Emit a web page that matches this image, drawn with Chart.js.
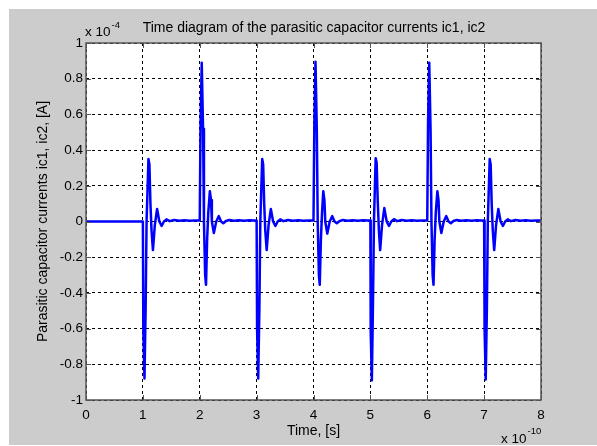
<!DOCTYPE html>
<html>
<head>
<meta charset="utf-8">
<script src="https://cdn.jsdelivr.net/npm/chart.js@4.4.0/dist/chart.umd.min.js"></script>
<style>
  html, body { margin: 0; padding: 0; background: #fff; }
  canvas { display: block; }
</style>
</head>
<body>
<canvas id="myChart" width="597" height="446"></canvas>
<script>
// Datos: tiempo en unidades de 1e-10 s, corriente en 1e-4 A
const timeValues = [
  0, 0.5, 1.0,
  // pulso en t = 1
  1.008, 1.028, 1.048, 1.065, 1.098, 1.115, 1.133, 1.152, 1.177, 1.21, 1.25, 1.29, 1.33, 1.37, 1.415, 1.47, 1.55, 1.64, 1.73, 1.82, 1.91, 2.0,
  // pulso en t = 2
  2.014, 2.035, 2.058, 2.074, 2.095, 2.11, 2.13, 2.15, 2.178, 2.198, 2.213, 2.248, 2.29, 2.335, 2.375, 2.415, 2.46, 2.52, 2.6, 2.69, 2.78, 2.87, 2.95, 3.0,
  // pulso en t = 3
  3.008, 3.028, 3.048, 3.065, 3.098, 3.115, 3.133, 3.152, 3.177, 3.21, 3.25, 3.29, 3.33, 3.37, 3.415, 3.47, 3.55, 3.64, 3.73, 3.82, 3.91, 4.0,
  // pulso en t = 4
  4.014, 4.035, 4.058, 4.074, 4.095, 4.11, 4.13, 4.15, 4.172, 4.192, 4.207, 4.242, 4.285, 4.33, 4.37, 4.41, 4.46, 4.52, 4.6, 4.69, 4.78, 4.87, 4.95, 5.0,
  // pulso en t = 5
  5.006, 5.026, 5.046, 5.063, 5.093, 5.11, 5.13, 5.15, 5.172, 5.205, 5.245, 5.287, 5.327, 5.367, 5.415, 5.47, 5.55, 5.64, 5.73, 5.82, 5.91, 6.0,
  // pulso en t = 6
  6.014, 6.035, 6.058, 6.074, 6.095, 6.11, 6.13, 6.15, 6.178, 6.198, 6.213, 6.248, 6.29, 6.335, 6.375, 6.415, 6.46, 6.52, 6.6, 6.69, 6.78, 6.87, 6.95, 7.0,
  // pulso en t = 7
  7.008, 7.028, 7.048, 7.065, 7.098, 7.115, 7.133, 7.152, 7.177, 7.21, 7.25, 7.29, 7.33, 7.37, 7.415, 7.47, 7.55, 7.64, 7.73, 7.82, 7.91, 8.0
];

const currentValues = [
  0, 0, 0,
  // pulso en t = 1
  -0.6, -0.88, -0.5, 0, 0.35, 0.32, 0.1, -0.05, -0.16, -0.02, 0.07, 0, -0.025, 0, 0.012, 0.002, 0.008, 0.004, 0.007, 0.004, 0.006, 0.005,
  // pulso en t = 2
  0.55, 0.89, 0.52, 0, -0.3, -0.355, -0.1, 0.05, 0.17, 0.12, 0, -0.065, 0, 0.03, 0, -0.01, 0.003, 0.008, 0.004, 0.007, 0.004, 0.007, 0.005, 0.005,
  // pulso en t = 3
  -0.6, -0.88, -0.5, 0, 0.35, 0.32, 0.1, -0.05, -0.16, -0.02, 0.07, 0, -0.025, 0, 0.012, 0.002, 0.008, 0.004, 0.007, 0.004, 0.006, 0.005,
  // pulso en t = 4
  0.52, 0.895, 0.52, 0, -0.3, -0.355, -0.1, 0.05, 0.17, 0.12, 0, -0.068, 0, 0.03, 0, -0.01, 0.003, 0.008, 0.004, 0.007, 0.004, 0.007, 0.005, 0.005,
  // pulso en t = 5
  -0.62, -0.89, -0.45, 0, 0.355, 0.33, 0.11, -0.05, -0.16, -0.02, 0.075, 0, -0.025, 0, 0.013, 0.002, 0.008, 0.004, 0.007, 0.004, 0.006, 0.005,
  // pulso en t = 6
  0.55, 0.89, 0.52, 0, -0.3, -0.355, -0.1, 0.05, 0.17, 0.12, 0, -0.065, 0, 0.03, 0, -0.01, 0.003, 0.008, 0.004, 0.007, 0.004, 0.007, 0.005, 0.005,
  // pulso en t = 7
  -0.6, -0.885, -0.5, 0, 0.35, 0.32, 0.1, -0.05, -0.16, -0.02, 0.07, 0, -0.025, 0, 0.012, 0.002, 0.008, 0.004, 0.007, 0.004, 0.006, 0.005
];

const xTicks = [0, 1, 2, 3, 4, 5, 6, 7, 8];
const xTickLabels = ['0', '1', '2', '3', '4', '5', '6', '7', '8'];
const yTicks = [-1, -0.8, -0.6, -0.4, -0.2, 0, 0.2, 0.4, 0.6, 0.8, 1];
const yTickLabels = ['-1', '-0.8', '-0.6', '-0.4', '-0.2', '0', '0.2', '0.4', '0.6', '0.8', '1'];

const chartTitle = 'Time diagram of the parasitic capacitor currents ic1, ic2';
const xTitle = 'Time, [s]';
const yTitle = 'Parasitic capacitor currents ic1, ic2, [A]';
const xExponent = '-10';
const yExponent = '-4';

const fontFamily = '"Liberation Sans", Arial, sans-serif';
const chart = document.getElementById('myChart');

// Fondo gris tipo MATLAB, caja de ejes, marcas interiores y textos extra
const matlabFrame = {
  id: 'matlabFrame',
  beforeDraw(c) {
    const ctx = c.ctx;
    const a = c.chartArea;
    ctx.save();
    ctx.fillStyle = '#ffffff';
    ctx.fillRect(0, 0, c.width, c.height);
    ctx.fillStyle = '#cccccc';
    ctx.fillRect(9, 9, c.width - 9, c.height - 10);
    ctx.fillStyle = '#ffffff';
    ctx.fillRect(a.left, a.top, a.right - a.left, a.bottom - a.top);
    ctx.restore();
  },
  afterDatasetsDraw(c) {
    const ctx = c.ctx;
    const a = c.chartArea;
    const xs = c.scales.x;
    const ys = c.scales.y;
    ctx.save();
    ctx.strokeStyle = '#555555';
    ctx.lineWidth = 1;
    ctx.beginPath();
    xTicks.forEach(v => {
      const px = Math.round(xs.getPixelForValue(v)) + 0.5;
      ctx.moveTo(px, a.bottom); ctx.lineTo(px, a.bottom - 5);
      ctx.moveTo(px, a.top); ctx.lineTo(px, a.top + 5);
    });
    yTicks.forEach(v => {
      const py = Math.round(ys.getPixelForValue(v)) + 0.5;
      ctx.moveTo(a.left, py); ctx.lineTo(a.left + 5, py);
      ctx.moveTo(a.right, py); ctx.lineTo(a.right - 5, py);
    });
    ctx.stroke();
    ctx.lineWidth = 1.5;
    ctx.strokeRect(a.left, a.top, a.right - a.left, a.bottom - a.top);
    ctx.restore();
  },
  afterDraw(c) {
    const ctx = c.ctx;
    ctx.save();
    ctx.fillStyle = '#000000';
    ctx.textBaseline = 'alphabetic';
    ctx.font = '14px ' + fontFamily;
    ctx.textAlign = 'center';
    ctx.fillText(chartTitle, 314, 32);

    ctx.textAlign = 'left';
    ctx.font = '13.5px ' + fontFamily;
    ctx.fillText('x 10', 85, 36);
    let w = ctx.measureText('x 10').width;
    ctx.font = '9.5px ' + fontFamily;
    ctx.fillText(yExponent, 85 + w + 1, 28);

    ctx.font = '13.5px ' + fontFamily;
    ctx.fillText('x 10', 501, 443);
    w = ctx.measureText('x 10').width;
    ctx.font = '9.5px ' + fontFamily;
    ctx.fillText(xExponent, 501 + w + 1, 434);
    ctx.restore();
  }
};

const chartConfig = {
  type: 'line',
  data: {
    datasets: [
      {
        label: 'ic1, ic2',
        data: timeValues.map((t, i) => ({ x: t, y: currentValues[i] })),
        borderColor: '#0000ff',
        borderWidth: 2.5,
        borderJoinStyle: 'round',
        borderCapStyle: 'round',
        pointRadius: 0,
        tension: 0,
        fill: false,
      },
    ],
  },
  options: {
    responsive: false,
    animation: false,
    layout: {
      padding: { top: 43, right: 56, left: 0, bottom: 0 },
    },
    plugins: {
      legend: { display: false },
      tooltip: { enabled: false },
      title: { display: false },
    },
    scales: {
      x: {
        type: 'linear',
        min: 0,
        max: 8,
        afterBuildTicks: s => { s.ticks = xTicks.map(v => ({ value: v })); },
        afterFit: s => { s.height = 46; },
        ticks: {
          color: '#000000',
          font: { family: fontFamily, size: 13.5 },
          padding: 7,
          maxRotation: 0,
          callback: (v, i) => xTickLabels[i],
        },
        grid: { color: '#000000', lineWidth: 1, drawTicks: false },
        border: { display: false, dash: [3, 3] },
        title: {
          display: true,
          text: xTitle,
          color: '#000000',
          font: { family: fontFamily, size: 14 },
          padding: { top: 0, bottom: 6 },
        },
      },
      y: {
        type: 'linear',
        min: -1,
        max: 1,
        afterBuildTicks: s => { s.ticks = yTicks.map(v => ({ value: v })); },
        afterFit: s => { s.width = 86; },
        ticks: {
          color: '#000000',
          font: { family: fontFamily, size: 13.5 },
          padding: 3,
          callback: (v, i) => yTickLabels[i],
        },
        grid: { color: '#000000', lineWidth: 1, drawTicks: false },
        border: { display: false, dash: [3, 3] },
        title: {
          display: true,
          text: yTitle,
          color: '#000000',
          font: { family: fontFamily, size: 14 },
          padding: { top: 35, bottom: 0 },
        },
      },
    },
  },
  plugins: [matlabFrame],
};

const myChart = new Chart(chart, chartConfig);
</script>
</body>
</html>
